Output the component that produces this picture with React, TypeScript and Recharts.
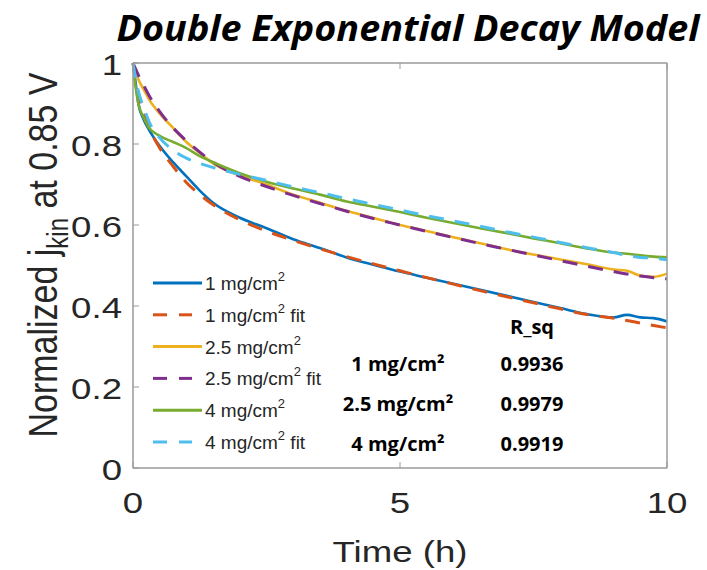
import React from "react"
import { LineChart, Line, XAxis, YAxis, Legend } from "recharts"

// Time (h) sample points, shared by every series
const TIME = [0, 0.05, 0.1, 0.2, 0.3, 0.5, 0.75, 1, 1.25, 1.5, 2, 2.5, 3, 3.5, 4, 4.5, 5, 5.5, 6, 6.5, 7, 7.5, 8, 8.5, 9, 9.25, 9.5, 9.75, 10]

const MG1 = [1, 0.95, 0.9, 0.86, 0.835, 0.795, 0.755, 0.72, 0.685, 0.655, 0.618, 0.592, 0.565, 0.543, 0.52, 0.502, 0.485, 0.47, 0.455, 0.44, 0.425, 0.41, 0.395, 0.38, 0.372, 0.378, 0.372, 0.37, 0.362]
const MG1_FIT = [1, 0.96, 0.925, 0.875, 0.84, 0.79, 0.745, 0.705, 0.675, 0.65, 0.613, 0.585, 0.562, 0.541, 0.522, 0.504, 0.487, 0.47, 0.454, 0.438, 0.423, 0.408, 0.393, 0.379, 0.37, 0.364, 0.358, 0.352, 0.346]
const MG25 = [1, 0.98, 0.96, 0.935, 0.91, 0.875, 0.84, 0.805, 0.778, 0.752, 0.722, 0.7, 0.675, 0.655, 0.635, 0.617, 0.6, 0.585, 0.57, 0.555, 0.54, 0.527, 0.515, 0.503, 0.49, 0.487, 0.475, 0.472, 0.48]
const MG25_FIT = [1, 0.985, 0.97, 0.945, 0.92, 0.88, 0.84, 0.808, 0.78, 0.755, 0.72, 0.695, 0.673, 0.653, 0.634, 0.616, 0.6, 0.584, 0.569, 0.554, 0.54, 0.526, 0.512, 0.498, 0.485, 0.479, 0.474, 0.47, 0.467]
const MG4 = [1, 0.94, 0.9, 0.865, 0.84, 0.82, 0.805, 0.79, 0.77, 0.755, 0.728, 0.707, 0.69, 0.675, 0.658, 0.645, 0.632, 0.618, 0.605, 0.592, 0.58, 0.567, 0.555, 0.542, 0.532, 0.529, 0.525, 0.522, 0.52]
const MG4_FIT = [1, 0.96, 0.93, 0.89, 0.855, 0.815, 0.785, 0.765, 0.752, 0.742, 0.725, 0.71, 0.694, 0.68, 0.665, 0.651, 0.637, 0.623, 0.61, 0.597, 0.583, 0.57, 0.557, 0.544, 0.532, 0.525, 0.52, 0.518, 0.514]

const Y_TICKS = [0, 0.2, 0.4, 0.6, 0.8, 1]
const X_TICKS = [0, 5, 10]

const RSQ_LABELS = ["1 mg/cm²", "2.5 mg/cm²", "4 mg/cm²"]
const RSQ_VALUES = ["0.9936", "0.9979", "0.9919"]

const SERIES = [
  { key: "mg1", name: "1 mg/cm", suffix: "", values: MG1, color: "#0072BD", dashed: false },
  { key: "mg1fit", name: "1 mg/cm", suffix: " fit", values: MG1_FIT, color: "#D95319", dashed: true },
  { key: "mg25", name: "2.5 mg/cm", suffix: "", values: MG25, color: "#EDB120", dashed: false },
  { key: "mg25fit", name: "2.5 mg/cm", suffix: " fit", values: MG25_FIT, color: "#7E2F8E", dashed: true },
  { key: "mg4", name: "4 mg/cm", suffix: "", values: MG4, color: "#77AC30", dashed: false },
  { key: "mg4fit", name: "4 mg/cm", suffix: " fit", values: MG4_FIT, color: "#4DBEEE", dashed: true },
]

const data = TIME.map((t, i) => {
  const row: Record<string, number> = { t }
  for (const s of SERIES) row[s.key] = s.values[i]
  return row
})

const GRAY = "#9a9a9a"
const TEXT = "#262626"
const AXIS_FONT = "'Liberation Sans', Arial, sans-serif"
const STRETCH = "scale(1.22,1)"

// plot box edges, px
const LEFT = 133
const RIGHT = 667
const TOP = 63
const BOTTOM = 468

function LeftTick({ y, payload }: any) {
  return (
    <g>
      <line x1={LEFT} x2={LEFT + 6} y1={y} y2={y} stroke={GRAY} />
      <text transform={`translate(${LEFT - 11},${y + 12}) ${STRETCH}`} textAnchor="end" fontSize={30} fontFamily={AXIS_FONT} fill={TEXT}>
        {String(payload.value)}
      </text>
    </g>
  )
}

function RightTick({ y }: any) {
  return <line x1={RIGHT - 6} x2={RIGHT} y1={y} y2={y} stroke={GRAY} />
}

function BottomTick({ x, payload }: any) {
  return (
    <g>
      <line x1={x} x2={x} y1={BOTTOM - 6} y2={BOTTOM} stroke={GRAY} />
      <text transform={`translate(${x},${BOTTOM + 45}) ${STRETCH}`} textAnchor="middle" fontSize={30} fontFamily={AXIS_FONT} fill={TEXT}>
        {String(payload.value)}
      </text>
    </g>
  )
}

function TopTick({ x }: any) {
  return <line x1={x} x2={x} y1={TOP} y2={TOP + 6} stroke={GRAY} />
}

function LegendBox() {
  return (
    <svg width={240} height={200} style={{ overflow: "visible" }}>
      {SERIES.map((s, i) => {
        const y = 13 + i * 31.8
        return (
          <g key={s.key}>
            {s.dashed ? (
              <>
                <line x1={3} x2={17} y1={y} y2={y} stroke={s.color} strokeWidth={3} />
                <line x1={29} x2={42} y1={y} y2={y} stroke={s.color} strokeWidth={3} />
              </>
            ) : (
              <line x1={3} x2={52} y1={y} y2={y} stroke={s.color} strokeWidth={3} />
            )}
            <text x={55} y={y + 7} fontSize={19} fontFamily={AXIS_FONT} fill={TEXT}>
              {s.name}
              <tspan fontSize={13} dy={-9}>2</tspan>
              <tspan dy={9}>{s.suffix}</tspan>
            </text>
          </g>
        )
      })}
    </svg>
  )
}

export default function App() {
  return (
    <div style={{ position: "absolute", left: 0, top: 0, width: 707, height: 570, background: "#fff" }}>
      <LineChart width={707} height={570} data={data} margin={{ top: TOP - 1, right: 707 - RIGHT - 1, bottom: 570 - BOTTOM - 1, left: LEFT - 1 }}>
        <XAxis dataKey="t" type="number" domain={[0, 10]} ticks={X_TICKS} height={1} tickSize={0} tickMargin={0}
          tickLine={false} axisLine={{ stroke: GRAY }} tick={BottomTick} />
        <XAxis xAxisId="top" orientation="top" dataKey="t" type="number" domain={[0, 10]} ticks={X_TICKS} height={1}
          tickSize={0} tickMargin={0} tickLine={false} axisLine={{ stroke: GRAY }} tick={TopTick} />
        <YAxis type="number" domain={[0, 1]} ticks={Y_TICKS} width={1} tickSize={0} tickMargin={0}
          tickLine={false} axisLine={{ stroke: GRAY }} tick={LeftTick} />
        <YAxis yAxisId="right" orientation="right" type="number" domain={[0, 1]} ticks={Y_TICKS} width={1}
          tickSize={0} tickMargin={0} tickLine={false} axisLine={{ stroke: GRAY }} tick={RightTick} />
        <Legend layout="horizontal" verticalAlign="middle" align="center" content={() => <LegendBox />}
          wrapperStyle={{ left: 150, top: 270, width: 240, height: 200 }} />
        {SERIES.map((s) => (
          <Line key={s.key} dataKey={s.key} name={s.name + "2" + s.suffix} type="monotone" stroke={s.color}
            strokeWidth={s.dashed ? 3 : 2.6} strokeDasharray={s.dashed ? "15 11" : undefined} dot={false}
            activeDot={false} isAnimationActive={false} />
        ))}
      </LineChart>
      <svg width={707} height={570} style={{ position: "absolute", left: 0, top: 0, pointerEvents: "none" }}>
        <rect x={LEFT} y={TOP} width={RIGHT - LEFT} height={BOTTOM - TOP} fill="none" stroke={GRAY} />
        <text x={408} y={41} textAnchor="middle" fontSize={36} fontWeight={700} fontStyle="italic"
          fontFamily="'Open Sans', sans-serif" textLength={583} lengthAdjust="spacingAndGlyphs" fill="#000">
          Double Exponential Decay Model
        </text>
        <text transform={`translate(400,562) ${STRETCH}`} textAnchor="middle" fontSize={30} fontFamily={AXIS_FONT} fill={TEXT}>
          Time (h)
        </text>
        <text transform={`translate(57,255) ${STRETCH} rotate(-90)`} textAnchor="middle" fontSize={34} fontFamily={AXIS_FONT} fill={TEXT}>
          Normalized j<tspan fontSize={24} dy={9}>kin</tspan><tspan dy={-9}> at 0.85 V</tspan>
        </text>
        <g fontFamily="'Open Sans', sans-serif" fontWeight={700} fontSize={20} fill="#000">
          <text x={532} y={334} textAnchor="middle">R_sq</text>
          {RSQ_LABELS.map((l, i) => (
            <text key={l} x={398} y={371 + i * 40} textAnchor="middle">{l}</text>
          ))}
          {RSQ_VALUES.map((v, i) => (
            <text key={v} x={532} y={371 + i * 40} textAnchor="middle">{v}</text>
          ))}
        </g>
      </svg>
    </div>
  )
}
